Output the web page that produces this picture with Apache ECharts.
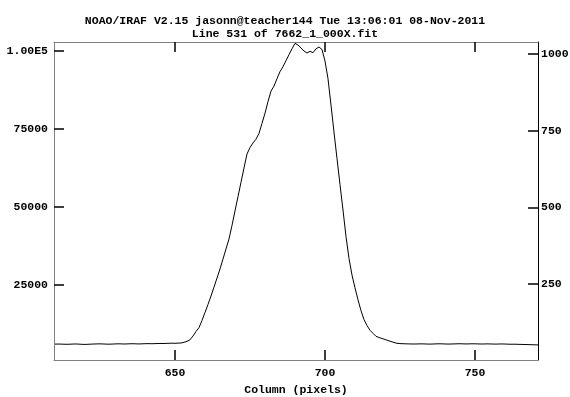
<!DOCTYPE html>
<html>
<head>
<meta charset="utf-8">
<title>Line 531 of 7662_1_000X.fit</title>
<script src="https://cdn.jsdelivr.net/npm/echarts@6/dist/echarts.min.js"></script>
<style>
  html, body { margin: 0; padding: 0; background: #fff; }
  #chart { width: 570px; height: 397px; }
</style>
</head>
<body>
<div id="chart"></div>
<script>
// 数据：列号 610..771 及对应计数
const firstColumn = 610
const counts = [
  5950, 5980, 5960, 5920, 5900, 5930, 5970, 6000, 5950, 5890,
  5860, 5900, 5950, 5990, 6020, 6040, 6000, 5960, 5930, 5970,
  6010, 6050, 6030, 5990, 6020, 6060, 6080, 6040, 6010, 6050,
  6090, 6110, 6080, 6100, 6140, 6170, 6150, 6190, 6220, 6260,
  6220, 6270, 6314, 6538, 6859, 7339, 8557, 10000, 11218, 13525,
  16089, 18653, 21377, 24230, 27114, 30031, 33236, 36441, 39646, 43973,
  48620, 53203, 57818, 62401, 66888, 68971, 70414, 71632, 73490, 76697,
  79933, 83650, 87048, 88650, 91022, 93298, 94868, 96791, 98714, 100605,
  102336, 101823, 100861, 99900, 99259, 99804, 99355, 100605, 101182, 100381,
  96695, 91054, 82593, 73907, 65446, 57113, 48940, 40478, 33428, 28108,
  24005, 20159, 16698, 13814, 11923, 10384, 9423, 8461, 8077, 7756,
  7436, 7115, 6795, 6474, 6218, 6122, 6080, 6050, 6020, 6000,
  5990, 6010, 6040, 6020, 5980, 5960, 5990, 6030, 6060, 6040,
  6000, 5970, 5990, 6020, 6050, 6070, 6040, 6010, 6030, 6060,
  6050, 6020, 5990, 6000, 6030, 6010, 5980, 5960, 5990, 6010,
  5980, 5940, 5910, 5930, 5900, 5870, 5850, 5820, 5790, 5760,
  5730, 5700
]
const xTicks = [650, 700, 750]
const leftTicks = [25000, 50000, 75000, 100000]
const rightTicks = [250, 500, 750, 1000]

const font = 'Liberation Mono'
const myChart = echarts.init(document.getElementById('chart'))

const option = {
  animation: false,
  title: {
    text: 'NOAO/IRAF V2.15 jasonn@teacher144 Tue 13:06:01 08-Nov-2011\nLine 531 of 7662_1_000X.fit',
    left: 'center',
    top: 10,
    textStyle: {
      fontFamily: font,
      fontSize: 11.5,
      fontWeight: 'bold',
      color: '#000',
      lineHeight: 13,
      align: 'center'
    }
  },
  grid: { left: 54, right: 32, top: 42, bottom: 37, outerBoundsMode: 'none' },
  xAxis: [
    {
      type: 'value',
      min: 609.67,
      max: 771,
      name: 'Column (pixels)',
      nameLocation: 'middle',
      nameGap: 22,
      nameTextStyle: { fontFamily: font, fontSize: 11.5, fontWeight: 'bold', color: '#000' },
      axisLine: { show: true, lineStyle: { color: '#808080', width: 1 } },
      axisTick: { inside: true, length: 10, customValues: xTicks, lineStyle: { color: '#000', width: 1.5 } },
      axisLabel: { customValues: xTicks, margin: 7, fontFamily: font, fontSize: 11.5, fontWeight: 'bold', color: '#000' },
      splitLine: { show: false }
    },
    {
      type: 'value',
      position: 'top',
      min: 609.67,
      max: 771,
      axisLine: { show: true, lineStyle: { color: '#808080', width: 1 } },
      axisTick: { inside: true, length: 10, customValues: xTicks, lineStyle: { color: '#000', width: 1.5 } },
      axisLabel: { show: false },
      splitLine: { show: false }
    }
  ],
  yAxis: [
    {
      type: 'value',
      min: 865,
      max: 102784,
      axisLine: { show: true, lineStyle: { color: '#808080', width: 1 } },
      axisTick: { show: true, inside: true, length: 10, customValues: leftTicks, lineStyle: { color: '#000', width: 1.5 } },
      axisLabel: {
        customValues: leftTicks,
        margin: 6,
        fontFamily: font,
        fontSize: 11.5,
        fontWeight: 'bold',
        color: '#000',
        formatter: (v) => (v === 100000 ? '1.00E5' : String(v))
      },
      splitLine: { show: false }
    },
    {
      type: 'value',
      position: 'right',
      min: 2.3,
      max: 1039,
      axisLine: { show: true, lineStyle: { color: '#000', width: 1 } },
      axisTick: { show: true, inside: true, length: 10, customValues: rightTicks, lineStyle: { color: '#000', width: 1.5 } },
      axisLabel: {
        customValues: rightTicks,
        margin: 3,
        fontFamily: font,
        fontSize: 11.5,
        fontWeight: 'bold',
        color: '#000',
        formatter: (v) => String(v)
      },
      splitLine: { show: false }
    }
  ],
  series: [
    {
      name: 'Line 531',
      type: 'line',
      xAxisIndex: 0,
      yAxisIndex: 0,
      data: counts.map((v, i) => [firstColumn + i, v]),
      showSymbol: false,
      lineStyle: { color: '#000', width: 1 },
      silent: true
    }
  ]
}

myChart.setOption(option)
window.addEventListener('resize', () => {
  myChart.resize()
})
</script>
</body>
</html>
